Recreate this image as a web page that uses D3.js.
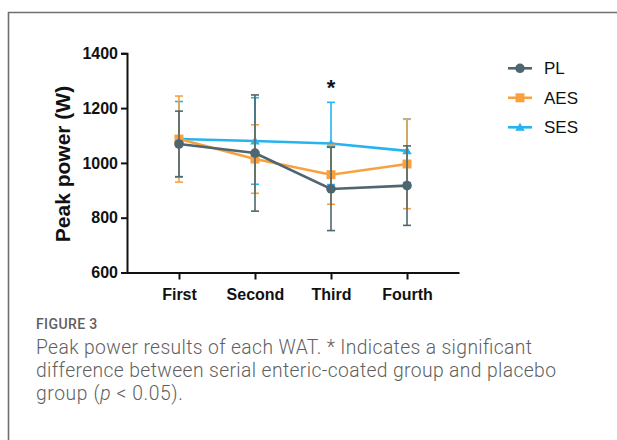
<!DOCTYPE html>
<html>
<head>
<meta charset="utf-8">
<script src="https://cdn.jsdelivr.net/npm/d3@7"></script>
<style>
  html, body { margin: 0; padding: 0; background: #fff; }
  svg { display: block; }
</style>
</head>
<body>
<svg id="fig" width="617" height="440"></svg>
<script>
// WAT sessions on the x axis
const sessions = ["First", "Second", "Third", "Fourth"];
const yTicks = [600, 800, 1000, 1200, 1400];

// Mean peak power (W) per group
const plMean  = [1069, 1036, 905, 917];
const aesMean = [1087, 1014, 957, 996];
const sesMean = [1087, 1080, 1071, 1044];

// Standard deviations (W)
const plSd  = [120, 212, 152, 145];
const aesSd = [157, 125, 108, 163];
const sesSd = [137, 158, 150, 116];

const groupNames = ["PL", "AES", "SES"];
const significantSession = "Third";

const colors = { PL: "#4e6670", AES: "#f7a23e", SES: "#26b4ee" };

const svg = d3.select("#fig");

// Frame around the figure panel
svg.append("path")
  .attr("d", "M8.5,440 L8.5,12.5 L617,12.5")
  .attr("fill", "none")
  .attr("stroke", "#6f6f6f")
  .attr("stroke-width", 1.6);

const x = d3.scalePoint().domain(sessions).range([127, 459]).padding(0.684);
const y = d3.scaleLinear().domain([600, 1400]).range([272.5, 53.3]);

const axisFont = "'Liberation Sans', Arial, sans-serif";

// Y axis
const gy = svg.append("g").attr("transform", "translate(127,0)")
  .call(d3.axisLeft(y).tickValues(yTicks).tickFormat(d3.format("d"))
    .tickSize(6).tickPadding(3).tickSizeOuter(6));
gy.select(".domain").attr("stroke", "#111").attr("stroke-width", 2);
gy.selectAll(".tick line").attr("stroke", "#111").attr("stroke-width", 2);
gy.selectAll(".tick text")
  .attr("font-family", axisFont).attr("font-size", 16).attr("font-weight", "bold").attr("fill", "#111");

// X axis
const gx = svg.append("g").attr("transform", "translate(0,272.5)")
  .call(d3.axisBottom(x).tickSize(7).tickPadding(9).tickSizeOuter(0));
gx.select(".domain").attr("stroke", "#111").attr("stroke-width", 2);
gx.selectAll(".tick line").attr("stroke", "#111").attr("stroke-width", 2);
gx.selectAll(".tick text")
  .attr("font-family", axisFont).attr("font-size", 16).attr("font-weight", "bold").attr("fill", "#111");

// Y axis title
svg.append("text")
  .attr("transform", "translate(70,164) rotate(-90)")
  .attr("text-anchor", "middle")
  .attr("font-family", axisFont).attr("font-size", 21).attr("font-weight", "bold")
  .attr("fill", "#111")
  .text("Peak power (W)");

const groups = [
  { name: "SES", mean: sesMean, sd: sesSd },
  { name: "AES", mean: aesMean, sd: aesSd },
  { name: "PL",  mean: plMean,  sd: plSd }
];

const line = d3.line().x(d => x(d.s)).y(d => y(d.v));

function drawMarker(sel, name, cx, cy) {
  const c = colors[name];
  if (name === "PL") {
    sel.append("circle").attr("cx", cx).attr("cy", cy).attr("r", 4.8).attr("fill", c);
  } else if (name === "AES") {
    sel.append("rect").attr("x", cx - 4.5).attr("y", cy - 4.5).attr("width", 9).attr("height", 9).attr("fill", c);
  } else {
    sel.append("path")
      .attr("d", `M${cx},${cy - 4.5} L${cx + 4.8},${cy + 3.5} L${cx - 4.8},${cy + 3.5} Z`)
      .attr("fill", c);
  }
}

groups.forEach(g => {
  const pts = sessions.map((s, i) => ({ s, v: g.mean[i], sd: g.sd[i] }));
  const layer = svg.append("g");
  const c = colors[g.name];

  // Error bars (mean ± SD)
  pts.forEach(p => {
    const hi = y(p.v + p.sd), lo = y(p.v - p.sd), cx = x(p.s);
    layer.append("line").attr("x1", cx).attr("x2", cx).attr("y1", hi).attr("y2", lo)
      .attr("stroke", c).attr("stroke-width", 1.6);
    [hi, lo].forEach(yy => layer.append("line")
      .attr("x1", cx - 4).attr("x2", cx + 4).attr("y1", yy).attr("y2", yy)
      .attr("stroke", c).attr("stroke-width", 1.6));
  });

  // Mean line
  layer.append("path").datum(pts).attr("d", line)
    .attr("fill", "none").attr("stroke", c).attr("stroke-width", 2.6);

  // Markers
  pts.forEach(p => drawMarker(layer, g.name, x(p.s), y(p.v)));
});

// Significance mark
svg.append("text")
  .attr("x", x(significantSession)).attr("y", 95)
  .attr("text-anchor", "middle")
  .attr("font-family", axisFont).attr("font-size", 22).attr("font-weight", "bold")
  .attr("fill", "#111")
  .text("*");

// Legend
const legend = svg.append("g");
groupNames.forEach((name, i) => {
  const ly = 68.3 + i * 29.5;
  const c = colors[name];
  legend.append("line").attr("x1", 508).attr("x2", 532).attr("y1", ly).attr("y2", ly)
    .attr("stroke", c).attr("stroke-width", 2.6);
  drawMarker(legend, name, 520, ly);
  legend.append("text").attr("x", 544).attr("y", ly + 6)
    .attr("font-family", axisFont).attr("font-size", 17).attr("fill", "#111")
    .text(name);
});

// Caption
const capFont = "Roboto, 'Noto Sans', sans-serif";
svg.append("text")
  .attr("x", 36).attr("y", 329)
  .attr("font-family", capFont).attr("font-size", 14).attr("font-weight", 500)
  .attr("letter-spacing", 0.4)
  .attr("fill", "#606060")
  .text("FIGURE 3");

const capLines = [
  { t: "Peak power results of each WAT. * Indicates a significant", w: 496 },
  { t: "difference between serial enteric-coated group and placebo", w: 520 }
];
capLines.forEach((d, i) => {
  svg.append("text")
    .attr("x", 36).attr("y", 354 + i * 23)
    .attr("font-family", capFont).attr("font-size", 19.3).attr("font-weight", 300)
    .attr("textLength", d.w).attr("lengthAdjust", "spacing")
    .attr("fill", "#5f5f5f")
    .text(d.t);
});
const last = svg.append("text")
  .attr("x", 36).attr("y", 400)
  .attr("font-family", capFont).attr("font-size", 19.3).attr("font-weight", 300)
  .attr("letter-spacing", 0.6)
  .attr("fill", "#5f5f5f");
last.append("tspan").text("group (");
last.append("tspan").attr("font-style", "italic").text("p");
last.append("tspan").text(" < 0.05).");
</script>
</body>
</html>
